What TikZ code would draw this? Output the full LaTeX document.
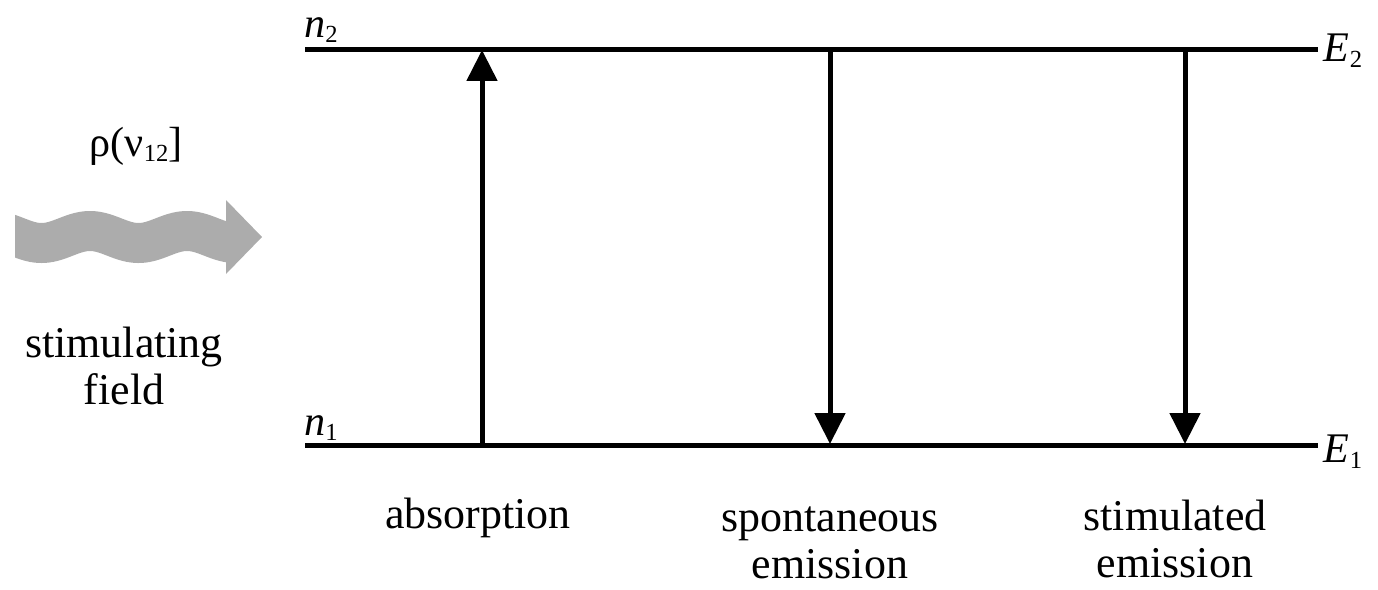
\documentclass[tikz,border=0pt]{standalone}
\usepackage{fontspec}
\setmainfont{Liberation Serif}
\usetikzlibrary{arrows.meta}
\definecolor{waveg}{RGB}{172,172,172}
\newcommand{\lsub}[1]{\raisebox{-0.3ex}{\fontsize{14}{14}\selectfont #1}}
\tikzset{
  x=0.02cm, y=-0.02cm,
  level/.style={line width=0.1cm, line cap=butt},
  trans/.style={line width=0.1cm, -{Triangle[length=0.62cm,width=0.6cm]}},
  lbl/.style={font=\fontsize{25}{29}\selectfont, align=center, inner sep=0pt},
  sym/.style={font=\fontsize{24}{28}\selectfont, inner sep=0pt}
}
\begin{document}
\begin{tikzpicture}
\useasboundingbox (0,0) rectangle (1378,589);
% energy levels
\coordinate (L2) at (305,49);
\coordinate (R2) at (1318,49);
\coordinate (L1) at (305,445);
\coordinate (R1) at (1318,445);
\draw[level] (L2) -- (R2);
\draw[level] (L1) -- (R1);
% level labels
\node[sym] (n2) at (321,30) {\textit{n}\lsub{2}};
\node[sym] (n1) at (321,428) {\textit{n}\lsub{1}};
\node[sym] (E2) at (1343,51) {\textit{E}\lsub{2}};
\node[sym] (E1) at (1343,452) {\textit{E}\lsub{1}};
% transitions
\coordinate (a1) at (482,445);
\coordinate (a2) at (482,50);
\coordinate (s2) at (830,49);
\coordinate (s1) at (830,444);
\coordinate (t2) at (1185,49);
\coordinate (t1) at (1185,444);
\draw[trans] (a1) -- (a2);
\draw[trans] (s2) -- (s1);
\draw[trans] (t2) -- (t1);
% bottom labels
\node[lbl] (abs) at (478,518) {absorption};
\node[lbl] (spo) at (830,543) {spontaneous\\[-2pt]emission};
\node[lbl] (sti) at (1175,539) {stimulated\\[-2pt]emission};
% stimulating field
\node[sym] (rho) at (136,146) {ρ(ν\lsub{12}]};
\node[lbl] (fld) at (124,366) {stimulating\\[-2pt]field};
\begin{scope}
\clip (15,150) rectangle (232,320);
\draw[waveg, line width=0.8cm, line cap=butt]
  plot[domain=0:232, samples=90, smooth] (\x,{237-6*cos(3.7113*(\x-90))});
\end{scope}
\coordinate (hb) at (226,237);
\coordinate (ht) at (262,237);
\fill[waveg] (226,200) -- (ht) -- (226,274) -- cycle;
\end{tikzpicture}
\end{document}
